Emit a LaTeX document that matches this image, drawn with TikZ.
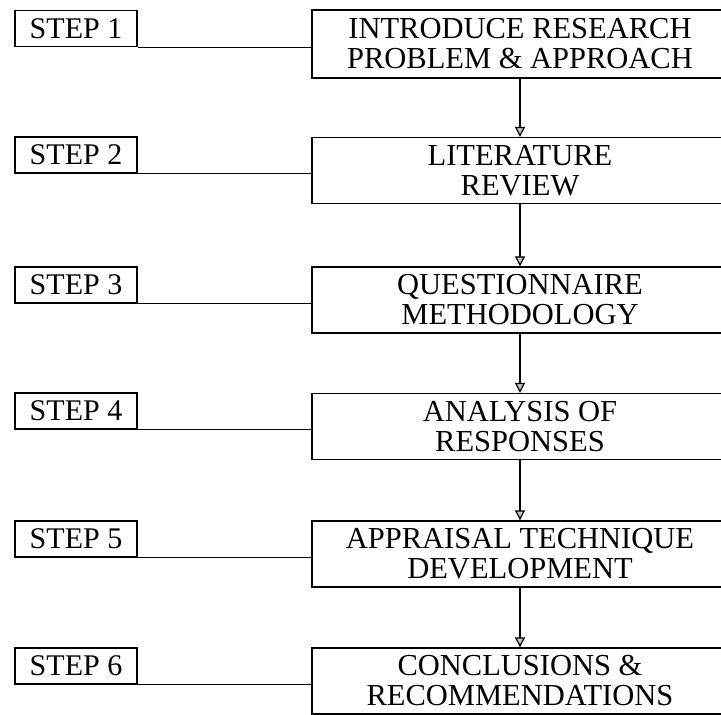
\documentclass[tikz,border=0pt]{standalone}
\usepackage{fontspec}
\setmainfont{Liberation Serif}
\usetikzlibrary{arrows.meta}

\tikzset{
  stepbox/.style={draw, line width=1.4pt, minimum width=122pt, minimum height=36pt,
    inner sep=0pt, font=\fontsize{30}{30}\selectfont},
  phasebox/.style={draw, line width=1.4pt, minimum width=416pt, minimum height=66pt,
    inner sep=0pt, align=center, font=\fontsize{30.5}{30}\selectfont},
  link/.style={line width=1.4pt},
  flow/.style={line width=1.2pt, -{Triangle[width=10pt,length=10pt,fill=gray!45]}}
}

\begin{document}
\begin{tikzpicture}[x=1pt, y=-1pt]
  \useasboundingbox (0,0) rectangle (721,715);
  \clip (0,0) rectangle (721,715);

  % step labels on the left
  \node[stepbox] (s1) at (76, 28.5) {STEP 1};
  \node[stepbox] (s2) at (76, 155) {STEP 2};
  \node[stepbox] (s3) at (76, 285) {STEP 3};
  \node[stepbox] (s4) at (76, 411) {STEP 4};
  \node[stepbox] (s5) at (76, 539) {STEP 5};
  \node[stepbox] (s6) at (76, 666) {STEP 6};

  % research phases on the right
  \node[phasebox, minimum height=68pt] (b1) at (520, 44) {INTRODUCE RESEARCH\\PROBLEM \& APPROACH};
  \node[phasebox] (b2) at (520, 170.5) {LITERATURE\\REVIEW};
  \node[phasebox] (b3) at (520, 300) {QUESTIONNAIRE\\METHODOLOGY};
  \node[phasebox] (b4) at (520, 426.5) {ANALYSIS OF\\RESPONSES};
  \node[phasebox] (b5) at (520, 554) {APPRAISAL TECHNIQUE\\DEVELOPMENT};
  \node[phasebox] (b6) at (520, 681) {CONCLUSIONS \&\\RECOMMENDATIONS};

  % each step tied to its phase
  \foreach \i in {1,...,6}
    \draw[link] (s\i.south east) -- (s\i.south east -| b\i.west);

  % sequence of phases
  \foreach \i/\j in {1/2,2/3,3/4,4/5,5/6}
    \draw[flow] (b\i.south) -- (b\j.north);
\end{tikzpicture}
\end{document}
